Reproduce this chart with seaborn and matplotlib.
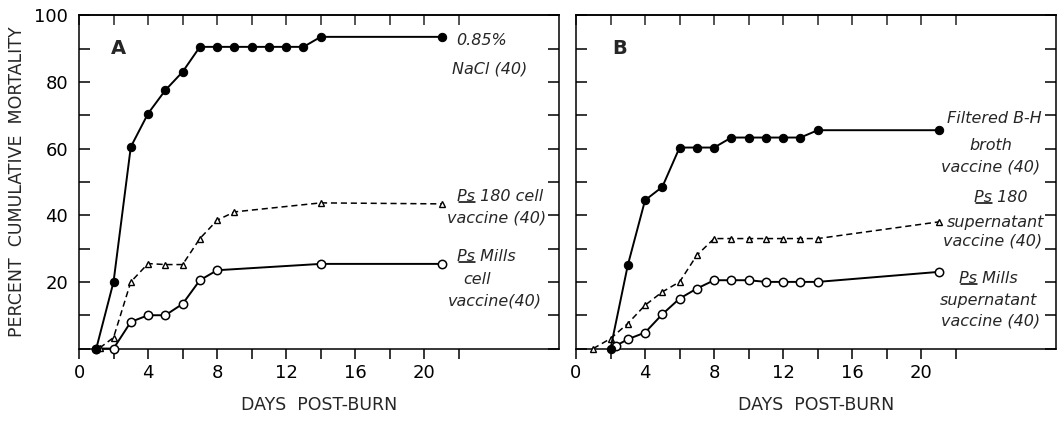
import matplotlib
matplotlib.use("Agg")
import matplotlib.pyplot as plt
from matplotlib.lines import Line2D
from matplotlib.transforms import IdentityTransform
import seaborn as sns

sns.set_theme(style="ticks")
plt.rcParams["font.family"] = ["DejaVu Sans"]
plt.rcParams["axes.edgecolor"] = "black"
plt.rcParams["axes.linewidth"] = 1.1

# ---- Panel A: saline control vs whole-cell vaccines ----
days_a_nacl = [1, 2, 3, 4, 5, 6, 7, 8, 9, 10, 11, 12, 13, 14, 21]
nacl = [0, 20, 60.5, 70.5, 77.5, 83, 90.5, 90.5, 90.5, 90.5, 90.5, 90.5, 90.5, 93.5, 93.5]
days_a_ps180 = [1.2, 2, 3, 4, 5, 6, 7, 8, 9, 14, 21]
ps180_cell = [0.2, 3.3, 20, 25.5, 25.2, 25.2, 33, 38.5, 41, 43.7, 43.4]
days_a_mills = [1, 2, 3, 4, 5, 6, 7, 8, 14, 21]
mills_cell = [0, 0, 8, 10, 10, 13.4, 20.5, 23.5, 25.4, 25.4]

# ---- Panel B: broth vs supernatant vaccines ----
days_b_bh = [2, 3, 4, 5, 6, 7, 8, 9, 10, 11, 12, 13, 14, 21]
bh_broth = [0, 25, 44.5, 48.5, 60.3, 60.3, 60.3, 63.3, 63.3, 63.3, 63.3, 63.3, 65.5, 65.5]
days_b_ps180 = [1, 2, 3, 4, 5, 6, 7, 8, 9, 10, 11, 12, 13, 14, 21]
ps180_sup = [0, 3, 7.5, 13, 17, 20, 28, 33, 33, 33, 33, 33, 33, 33, 38]
days_b_mills = [2.3, 3, 4, 5, 6, 7, 8, 9, 10, 11, 12, 13, 14, 21]
mills_sup = [0.8, 2.8, 4.8, 10.3, 15, 18, 20.5, 20.5, 20.5, 20, 20, 20, 20, 23]

labels_a = ["0.85%", "NaCl (40)", "Ps 180 cell", "vaccine (40)", "Ps Mills", "cell", "vaccine(40)"]
labels_b = ["Filtered B-H", "broth", "vaccine (40)", "Ps 180", "supernatant",
            "vaccine (40)", "Ps Mills", "supernatant", "vaccine (40)"]
pos_a = [(23.3, 92.5), (23.8, 84), (24.4, 45.6), (24.2, 39.2), (23.6, 27.6), (23.05, 20.7), (24.1, 14.2)]
pos_b = [(24.2, 69), (24.0, 60.8), (24.0, 54.4), (24.6, 45.3), (24.3, 37.8),
         (24.1, 32.3), (23.9, 21), (23.9, 14.3), (24.0, 8.3)]

x_ticks = list(range(0, 23, 2))
y_ticks = list(range(0, 101, 10))

LABEL_SIZE = 11.5

fig = plt.figure(figsize=(10.59, 4.22), dpi=100)
ax_a = fig.add_axes([0.0746, 0.174, 0.4533, 0.79])
ax_b = fig.add_axes([0.5439, 0.174, 0.4533, 0.79])

filled = dict(color="black", marker="o", markersize=6, markerfacecolor="black",
              markeredgecolor="black", linewidth=1.4, clip_on=False, zorder=5)
opened = dict(color="black", marker="o", markersize=6, markerfacecolor="white",
              markeredgecolor="black", markeredgewidth=1.1, linewidth=1.4, clip_on=False, zorder=3)
tri = dict(color="black", marker="^", markersize=5, markerfacecolor="white",
           markeredgecolor="black", markeredgewidth=1.0, linewidth=1.1,
           linestyle=(0, (4, 2.5)), clip_on=False, zorder=4)

sns.lineplot(x=days_a_mills, y=mills_cell, ax=ax_a, **opened)
sns.lineplot(x=days_a_ps180, y=ps180_cell, ax=ax_a, **tri)
sns.lineplot(x=days_a_nacl, y=nacl, ax=ax_a, **filled)

sns.lineplot(x=days_b_mills, y=mills_sup, ax=ax_b, **opened)
sns.lineplot(x=days_b_ps180, y=ps180_sup, ax=ax_b, **tri)
sns.lineplot(x=days_b_bh, y=bh_broth, ax=ax_b, **filled)

ps_texts = []
for ax, letter, labels, pos in [(ax_a, "A", labels_a, pos_a), (ax_b, "B", labels_b, pos_b)]:
    ax.set_xlim(0, 27.8)
    ax.set_ylim(0, 100)
    ax.set_xticks(x_ticks)
    ax.set_xticklabels([str(t) if t % 4 == 0 and t <= 20 else "" for t in x_ticks])
    ax.set_yticks(y_ticks)
    if ax is ax_a:
        ax.set_yticklabels([str(t) if t % 20 == 0 and t > 0 else "" for t in y_ticks])
        ax.set_ylabel("PERCENT  CUMULATIVE  MORTALITY", fontsize=12.5, labelpad=6)
    else:
        ax.set_yticklabels([])
        ax.set_ylabel("")
    ax.tick_params(axis="x", direction="out", length=7, width=1.1, labelsize=13,
                   pad=4, colors="black")
    ax.tick_params(axis="y", direction="in", length=8, width=1.1, labelsize=13,
                   left=True, right=True, pad=8, colors="black")
    top = ax.secondary_xaxis("top")
    top.set_xticks(x_ticks)
    top.tick_params(direction="in", length=7, width=1.1, labeltop=False, labelbottom=False)
    top.spines["top"].set_linewidth(1.1)
    ax.set_xlabel("DAYS  POST-BURN", fontsize=12.5, labelpad=10)
    for s in ax.spines.values():
        s.set_visible(True)
        s.set_linewidth(1.1)
    ax.text(2.3 if ax is ax_a else 2.5, 90, letter, fontsize=14, fontweight="bold",
            ha="center", va="center")
    for txt, (x, y) in zip(labels, pos):
        t = ax.text(x, y, txt, fontsize=LABEL_SIZE, style="italic", ha="center", va="center")
        if txt.startswith("Ps"):
            ps_texts.append((ax, t))

# underline the "Ps" abbreviation as in the original lettering
fig.canvas.draw()
renderer = fig.canvas.get_renderer()
for ax, t in ps_texts:
    bb = t.get_window_extent(renderer)
    probe = ax.text(0, 0, "Ps", fontsize=LABEL_SIZE, style="italic")
    w = probe.get_window_extent(renderer).width
    probe.remove()
    fig.add_artist(Line2D([bb.x0 + 1.5, bb.x0 + w], [bb.y0 + 2, bb.y0 + 2],
                          transform=IdentityTransform(), color="black", linewidth=1.1))

fig.savefig("out.png", dpi=100)
